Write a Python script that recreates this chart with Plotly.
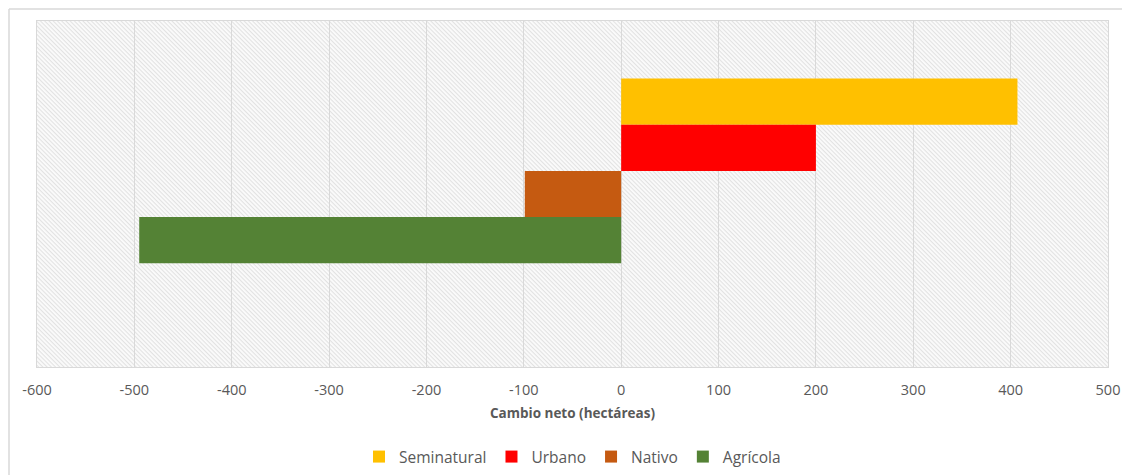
import base64
import plotly.graph_objects as go

# Data
categories = ["Cambio neto"]
series_names = ["Seminatural", "Urbano", "Nativo", "Agrícola"]
seminatural = [407]
urbano = [200]
nativo = [-99]
agricola = [-495]
series_values = [seminatural, urbano, nativo, agricola]
series_colors = ["#FFC000", "#FF0000", "#C55A11", "#548235"]
x_ticks = [-600, -500, -400, -300, -200, -100, 0, 100, 200, 300, 400, 500]
x_tick_labels = [str(v) for v in x_ticks]

fig = go.Figure()
for name, vals, col in zip(series_names, series_values, series_colors):
    fig.add_trace(go.Bar(
        y=categories, x=vals, name=name, orientation="h",
        marker=dict(color=col, line=dict(width=0)),
    ))
# empty fifth series slot (as in the source chart)
fig.add_trace(go.Bar(y=categories, x=[None], name="", orientation="h",
                     showlegend=False, hoverinfo="skip",
                     marker=dict(color="rgba(0,0,0,0)")))

# page offset of the figure inside the browser (body margin)
OFF = 8
FW, FH = 1130 - OFF, 475 - OFF
PL, PR, PT, PB = 37, 1108, 21, 367  # plot area in page pixels
W, H = PR - PL, PB - PT

svg = f'''<svg xmlns="http://www.w3.org/2000/svg" width="{W}" height="{H}" viewBox="0 0 {W} {H}" preserveAspectRatio="none">
<defs><pattern id="p" width="3" height="3" patternUnits="userSpaceOnUse" patternTransform="rotate(45)">
<rect width="3" height="3" fill="#fbfbfb"/><rect width="3" height="1.1" fill="#e2e2e2"/></pattern></defs>
<rect width="{W}" height="{H}" fill="url(#p)"/></svg>'''
src = "data:image/svg+xml;base64," + base64.b64encode(svg.encode()).decode()

# outer chart border (top and left edges), in figure pixels -> paper coords
bx = (OFF + 1 - PL) / W
by = 1 + (PT - OFF - 1) / H

fig.update_layout(
    width=FW, height=FH,
    margin=dict(l=PL - OFF, r=FW - (PR - OFF), t=PT - OFF, b=FH - (PB - OFF), autoexpand=False),
    paper_bgcolor="white", plot_bgcolor="white",
    barmode="group", bargap=0.333, bargroupgap=0,
    font=dict(family="Open Sans", color="#595959", size=14),
    showlegend=True,
    legend=dict(orientation="h", x=0.5, xanchor="center", y=-(457 - PB) / H, yanchor="middle",
                font=dict(size=15.5, color="#595959"), traceorder="normal",
                itemwidth=30),
    images=[dict(source=src, xref="paper", yref="paper", x=0, y=1, sizex=1, sizey=1,
                 sizing="stretch", layer="below")],
    xaxis=dict(range=[-600, 500], tickvals=x_ticks, ticktext=x_tick_labels,
               showgrid=True, gridcolor="#d9d9d9",
               gridwidth=1, zeroline=False, showline=True, linecolor="#d9d9d9", mirror=True,
               ticks="", ticklabelstandoff=10, tickfont=dict(size=14.5, color="#595959"),
               title=dict(text="<b>Cambio neto (hectáreas)</b>", font=dict(size=13.5, color="#595959"),
                          standoff=10)),
    yaxis=dict(autorange="reversed", showticklabels=False, showgrid=False, zeroline=False,
               showline=True, linecolor="#d9d9d9", mirror=True, ticks=""),
    shapes=[dict(type="line", xref="paper", yref="paper",
                 x0=bx, x1=(1140 - PL) / W, y0=by, y1=by,
                 line=dict(color="#d9d9d9", width=1.5)),
            dict(type="line", xref="paper", yref="paper",
                 x0=bx, x1=bx, y0=-(490 - PB) / H, y1=by,
                 line=dict(color="#d9d9d9", width=1.5))],
)

fig.write_html("out.html")
